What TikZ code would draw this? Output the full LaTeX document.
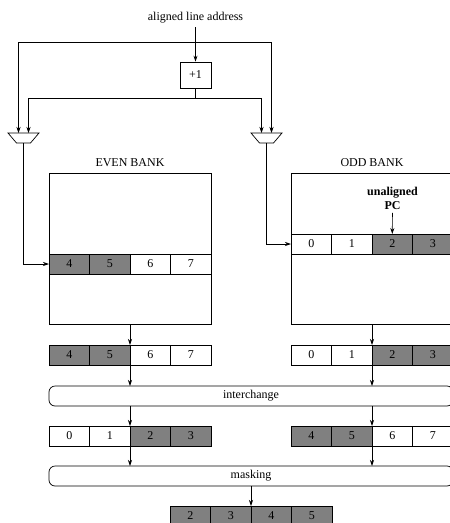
\documentclass[tikz,border=0pt]{standalone}
\usepackage{fontspec}
\setmainfont{Liberation Serif}
\usepackage{tikz}
\usetikzlibrary{arrows.meta, positioning, calc}

\begin{document}
\begin{tikzpicture}[
  x=1pt, y=-1pt, line width=0.7pt, >={Stealth[length=6pt,width=4pt]},
  every node/.style={font=\fontsize{12}{14}\selectfont},
  box/.style={rectangle, draw, minimum width=31pt, minimum height=26pt, inner sep=0pt},
  cell/.style={rectangle, draw, minimum width=40.5pt, minimum height=20pt, inner sep=0pt, outer sep=0pt},
  dark/.style={cell, fill=black!50},
  bank/.style={rectangle, draw, minimum width=162pt, minimum height=151pt, outer sep=0pt},
  oper/.style={rectangle, draw, rounded corners=6pt, minimum width=404pt, minimum height=20pt, outer sep=0pt}
]
  \useasboundingbox (0,0) rectangle (450,523);

  \node (addr) at (195.5,18) {aligned line address};
  \node[box] (inc) at (195.5,75) {+1};
  \coordinate (split) at (195.5,42);
  \coordinate (fork) at (195.5,98);

  % multiplexers: top centre and output
  \coordinate (lmux) at (23.5,133);
  \coordinate (lout) at (23.5,143);
  \coordinate (rmux) at (266.5,133);
  \coordinate (rout) at (266.5,143);
  \draw (lmux) ++(-15.5,0) -- ++(31,0) -- ++(-8.5,10) -- ++(-14,0) -- cycle;
  \draw (rmux) ++(-15.5,0) -- ++(31,0) -- ++(-8.5,10) -- ++(-14,0) -- cycle;

  \draw[->] (addr) -- (inc);
  \draw (inc) -- (fork);
  \draw[->] (split) -| ([xshift=-5pt]lmux);
  \draw[->] (split) -| ([xshift=5pt]rmux);
  \draw[->] (fork) -| ([xshift=5pt]lmux);
  \draw[->] (fork) -| ([xshift=-5pt]rmux);

  % the two banks
  \node[bank] (even) at (130,248.5) {};
  \node[bank] (odd) at (372,248.5) {};
  \node[above=3pt of even] (evenlbl) {EVEN BANK};
  \node[above=3pt of odd] (oddlbl) {ODD BANK};

  \node[dark, anchor=west] (a4) at (49,264) {4};
  \node[dark, right=0pt of a4] (a5) {5};
  \node[cell, right=0pt of a5] (a6) {6};
  \node[cell, right=0pt of a6] (a7) {7};

  \node[cell, anchor=west] (o0) at (291,244) {0};
  \node[cell, right=0pt of o0] (o1) {1};
  \node[dark, right=0pt of o1] (o2) {2};
  \node[dark, right=0pt of o2] (o3) {3};

  \node[font=\fontsize{12}{14}\selectfont\bfseries, align=center] (pc) at (392.5,198) {unaligned\\PC};
  \draw[->] (pc) -- (o2);

  \draw[->] (lout) |- (a4.west);
  \draw[->] (rout) |- (o0.west);

  % bank outputs
  \node[dark, anchor=west] (b4) at (49,355) {4};
  \node[dark, right=0pt of b4] (b5) {5};
  \node[cell, right=0pt of b5] (b6) {6};
  \node[cell, right=0pt of b6] (b7) {7};

  \node[cell, anchor=west] (c0) at (291,355) {0};
  \node[cell, right=0pt of c0] (c1) {1};
  \node[dark, right=0pt of c1] (c2) {2};
  \node[dark, right=0pt of c2] (c3) {3};

  \draw[->] (even.south) -- (b5.north east);
  \draw[->] (odd.south) -- (c1.north east);

  \node[oper] (inter) at (251,396) {interchange};
  \draw[->] (b5.south east) -- (b5.south east |- inter.north);
  \draw[->] (c1.south east) -- (c1.south east |- inter.north);

  % after interchange
  \node[cell, anchor=west] (d0) at (49,436) {0};
  \node[cell, right=0pt of d0] (d1) {1};
  \node[dark, right=0pt of d1] (d2) {2};
  \node[dark, right=0pt of d2] (d3) {3};

  \node[dark, anchor=west] (f4) at (291,436) {4};
  \node[dark, right=0pt of f4] (f5) {5};
  \node[cell, right=0pt of f5] (f6) {6};
  \node[cell, right=0pt of f6] (f7) {7};

  \draw[->] (d1.north east |- inter.south) -- (d1.north east);
  \draw[->] (f5.north east |- inter.south) -- (f5.north east);

  \node[oper] (mask) at (251,476) {masking};
  \draw[->] (d1.south east) -- (d1.south east |- mask.north);
  \draw[->] (f5.south east) -- (f5.south east |- mask.north);

  \node[dark, anchor=west] (g2) at (170,516) {2};
  \node[dark, right=0pt of g2] (g3) {3};
  \node[dark, right=0pt of g3] (g4) {4};
  \node[dark, right=0pt of g4] (g5) {5};
  \draw[->] (mask.south) -- (g3.north east);
\end{tikzpicture}
\end{document}
